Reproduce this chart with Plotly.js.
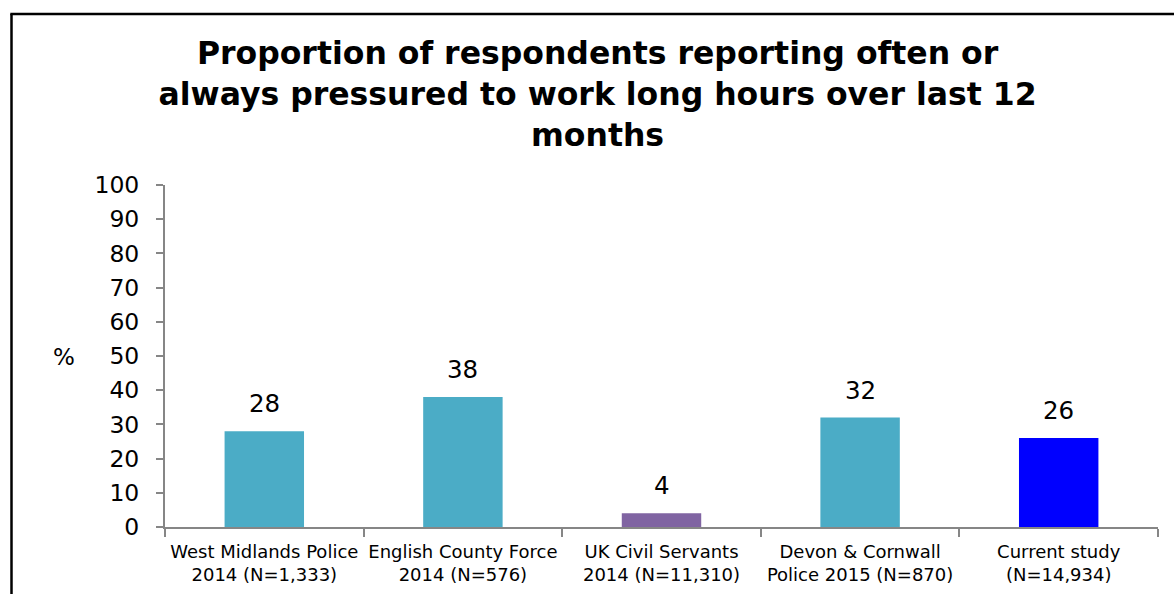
<!DOCTYPE html>
<html><head><meta charset="utf-8">
<script src="https://cdn.plot.ly/plotly-3.0.1.min.js"></script>
<style>html,body{margin:0;padding:0;background:#fff}#chart{width:1174px;height:594px}</style>
</head><body><div id="chart"></div>
<script>
const categories = [
  "West Midlands Police<br>2014 (N=1,333)",
  "English County Force<br>2014 (N=576)",
  "UK Civil Servants<br>2014 (N=11,310)",
  "Devon & Cornwall<br>Police 2015 (N=870)",
  "Current study<br>(N=14,934)"
];
const values = [28, 38, 4, 32, 26];
const barColors = ["#4BACC6", "#4BACC6", "#8064A2", "#4BACC6", "#0000FF"];
const yTicks = [0,10,20,30,40,50,60,70,80,90,100];

const font = "DejaVu Sans, Verdana, sans-serif";

const trace = {
  type: "bar",
  x: categories,
  y: values,
  width: 0.4,
  marker: {color: barColors, line: {width: 0}},
  hoverinfo: "none"
};

const annotations = values.map((v, i) => ({
  x: categories[i], y: v, xref: "x", yref: "y",
  text: String(v), showarrow: false, yanchor: "bottom", yshift: 11,
  font: {family: font, size: 24.5, color: "#000"}
}));
annotations.push({
  xref: "paper", yref: "paper", x: -0.102, y: 0.497, xanchor: "center", yanchor: "middle",
  text: "%", showarrow: false, font: {family: font, size: 23, color: "#000"}
});

const layout = {
  width: 1174, height: 594,
  margin: {l: 165, r: 16, t: 185, b: 67},
  paper_bgcolor: "#fff", plot_bgcolor: "#fff",
  showlegend: false,
  bargap: 0.6,
  title: {
    text: "<b>Proportion of respondents reporting often or<br>always pressured to work long hours over last 12<br>months</b>",
    font: {family: font, size: 31.5, color: "#000"},
    x: 0.509, xanchor: "center", y: 0.892, yanchor: "middle"
  },
  xaxis: {
    type: "category",
    tickangle: 0,
    showline: true, linecolor: "#868686", linewidth: 2,
    ticks: "outside", tickson: "boundaries", ticklen: 8, tickcolor: "#868686", tickwidth: 2,
    ticklabelstandoff: 7,
    tickfont: {family: font, size: 18, color: "#000"},
    showgrid: false, zeroline: false, fixedrange: true
  },
  yaxis: {
    range: [0, 100], tickvals: yTicks,
    showline: true, linecolor: "#868686", linewidth: 2,
    ticks: "outside", ticklen: 7, tickcolor: "#868686", tickwidth: 2,
    ticklabelstandoff: 12,
    tickfont: {family: font, size: 23.5, color: "#000"},
    showgrid: false, zeroline: false, fixedrange: true
  },
  annotations: annotations
};

Plotly.newPlot("chart", [trace], layout, {staticPlot: true}).then(() => {
  const svgs = document.querySelectorAll("#chart .main-svg");
  const svg = svgs[svgs.length - 1];
  const ns = "http://www.w3.org/2000/svg";
  const g = document.createElementNS(ns, "g");
  const mk = (x1,y1,x2,y2) => { const l = document.createElementNS(ns,"line");
    l.setAttribute("x1",x1);l.setAttribute("y1",y1);l.setAttribute("x2",x2);l.setAttribute("y2",y2);
    l.setAttribute("stroke","#000");l.setAttribute("stroke-width","2.5"); g.appendChild(l); };
  mk(11.5, 14, 11.5, 594);
  mk(10.3, 14, 1174, 14);
  svg.appendChild(g);
});
</script>
</body></html>
